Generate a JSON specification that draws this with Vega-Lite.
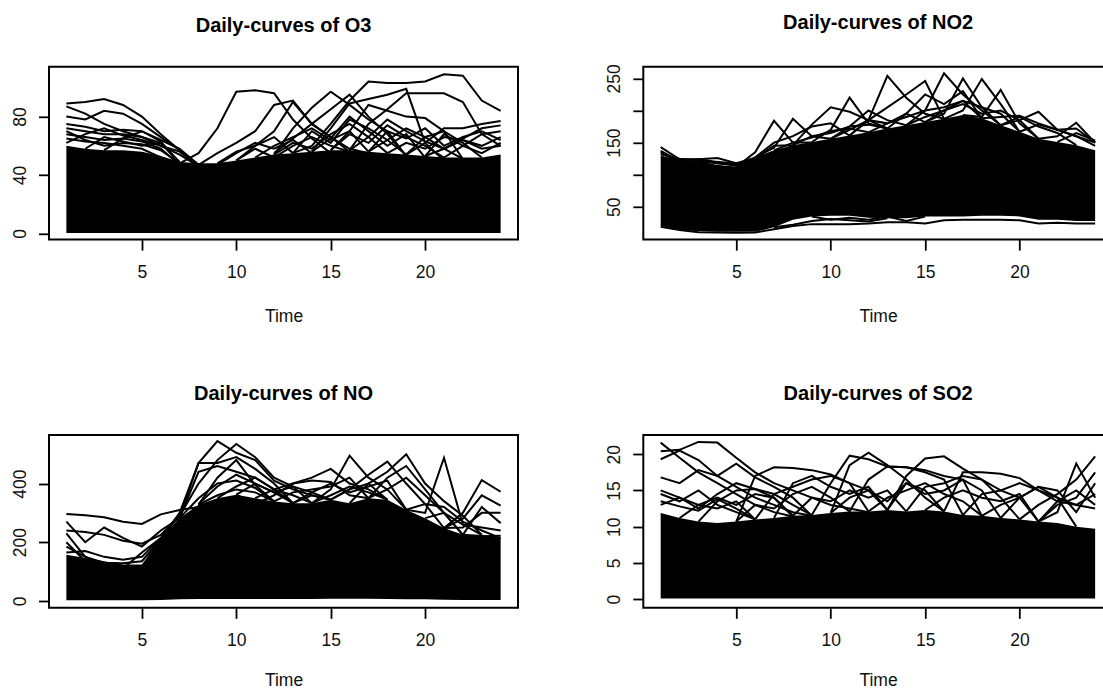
{
"$schema": "https://vega.github.io/schema/vega-lite/v6.json",
"autosize": {"type": "none"},
"padding": {"left": 49, "top": 66.8, "right": 1054, "bottom": 622.2},
"background": "white",
"config": {
  "view": {"stroke": "#000", "strokeWidth": 2},
  "axis": {"grid": false, "domain": false, "tickColor": "#000", "tickWidth": 1.8, "tickSize": 10.5, "labelFont": "Liberation Sans", "labelFontSize": 17.5, "labelColor": "#111", "labelOverlap": false, "labelFlush": false, "titleFont": "Liberation Sans", "titleFontSize": 17.5, "titleFontWeight": "normal", "titleColor": "#111"},
  "axisX": {"labelBaseline": "alphabetic", "labelPadding": 27.6, "titleBaseline": "alphabetic"},
  "axisY": {"labelAngle": 270, "labelAlign": "center", "labelBaseline": "alphabetic", "labelPadding": 13},
  "title": {"font": "Liberation Sans", "fontSize": 20, "fontWeight": "bold", "color": "#000", "offset": 30.8, "frame": "group"}
},
"datasets": {
"o3b": [{"t":1,"lo":0.3,"hi":60},{"t":2,"lo":0.3,"hi":58},{"t":3,"lo":0.3,"hi":57},{"t":4,"lo":0.3,"hi":57},{"t":5,"lo":0.3,"hi":56},{"t":6,"lo":0.3,"hi":53},{"t":7,"lo":0.3,"hi":49},{"t":8,"lo":0.3,"hi":48},{"t":9,"lo":0.3,"hi":48},{"t":10,"lo":0.3,"hi":50},{"t":11,"lo":0.3,"hi":52},{"t":12,"lo":0.3,"hi":54},{"t":13,"lo":0.3,"hi":55},{"t":14,"lo":0.3,"hi":56},{"t":15,"lo":0.3,"hi":57},{"t":16,"lo":0.3,"hi":57},{"t":17,"lo":0.3,"hi":56},{"t":18,"lo":0.3,"hi":55},{"t":19,"lo":0.3,"hi":54},{"t":20,"lo":0.3,"hi":53},{"t":21,"lo":0.3,"hi":52},{"t":22,"lo":0.3,"hi":52},{"t":23,"lo":0.3,"hi":52},{"t":24,"lo":0.3,"hi":54}],
"o3": [
{"c":"a","t":1,"v":89},{"c":"a","t":2,"v":90},{"c":"a","t":3,"v":92},{"c":"a","t":4,"v":88},{"c":"a","t":5,"v":80},{"c":"a","t":6,"v":68},{"c":"a","t":7,"v":57},{"c":"a","t":8,"v":47},
{"c":"b","t":1,"v":87},{"c":"b","t":2,"v":82},{"c":"b","t":3,"v":75},{"c":"b","t":4,"v":70},{"c":"b","t":5,"v":66},{"c":"b","t":6,"v":60},{"c":"b","t":7,"v":54},{"c":"b","t":8,"v":46},
{"c":"c","t":1,"v":80},{"c":"c","t":2,"v":78},{"c":"c","t":3,"v":84},{"c":"c","t":4,"v":82},{"c":"c","t":5,"v":75},{"c":"c","t":6,"v":66},{"c":"c","t":7,"v":57},{"c":"c","t":8,"v":46},
{"c":"d","t":1,"v":75},{"c":"d","t":2,"v":73},{"c":"d","t":3,"v":70},{"c":"d","t":4,"v":71},{"c":"d","t":5,"v":70},{"c":"d","t":6,"v":63},{"c":"d","t":7,"v":48},
{"c":"e","t":1,"v":72},{"c":"e","t":2,"v":70},{"c":"e","t":3,"v":68},{"c":"e","t":4,"v":68},{"c":"e","t":5,"v":66},{"c":"e","t":6,"v":62},{"c":"e","t":7,"v":48},
{"c":"f","t":1,"v":68},{"c":"f","t":2,"v":66},{"c":"f","t":3,"v":64},{"c":"f","t":4,"v":65},{"c":"f","t":5,"v":63},{"c":"f","t":6,"v":58},{"c":"f","t":7,"v":47},
{"c":"g","t":1,"v":65},{"c":"g","t":2,"v":63},{"c":"g","t":3,"v":62},{"c":"g","t":4,"v":60},{"c":"g","t":5,"v":58},{"c":"g","t":6,"v":52},
{"c":"h","t":1,"v":62},{"c":"h","t":2,"v":68},{"c":"h","t":3,"v":72},{"c":"h","t":4,"v":67},{"c":"h","t":5,"v":64},{"c":"h","t":6,"v":60},{"c":"h","t":7,"v":56},{"c":"h","t":8,"v":46},
{"c":"i","t":7,"v":48},{"c":"i","t":8,"v":55},{"c":"i","t":9,"v":72},{"c":"i","t":10,"v":97},{"c":"i","t":11,"v":98},{"c":"i","t":12,"v":96},{"c":"i","t":13,"v":78},{"c":"i","t":14,"v":65},{"c":"i","t":15,"v":55},
{"c":"j","t":8,"v":47},{"c":"j","t":9,"v":55},{"c":"j","t":10,"v":62},{"c":"j","t":11,"v":70},{"c":"j","t":12,"v":88},{"c":"j","t":13,"v":91},{"c":"j","t":14,"v":75},{"c":"j","t":15,"v":66},{"c":"j","t":16,"v":56},
{"c":"k","t":10,"v":50},{"c":"k","t":11,"v":60},{"c":"k","t":12,"v":70},{"c":"k","t":13,"v":90},{"c":"k","t":14,"v":75},{"c":"k","t":15,"v":66},{"c":"k","t":16,"v":58},{"c":"k","t":17,"v":55},
{"c":"l","t":12,"v":54},{"c":"l","t":13,"v":72},{"c":"l","t":14,"v":86},{"c":"l","t":15,"v":97},{"c":"l","t":16,"v":88},{"c":"l","t":17,"v":78},{"c":"l","t":18,"v":70},{"c":"l","t":19,"v":53},
{"c":"m","t":12,"v":55},{"c":"m","t":13,"v":65},{"c":"m","t":14,"v":75},{"c":"m","t":15,"v":85},{"c":"m","t":16,"v":95},{"c":"m","t":17,"v":80},{"c":"m","t":18,"v":68},{"c":"m","t":19,"v":53},
{"c":"n","t":13,"v":55},{"c":"n","t":14,"v":60},{"c":"n","t":15,"v":75},{"c":"n","t":16,"v":91},{"c":"n","t":17,"v":104},{"c":"n","t":18,"v":103},{"c":"n","t":19,"v":103},{"c":"n","t":20,"v":104},{"c":"n","t":21,"v":109},{"c":"n","t":22,"v":108},{"c":"n","t":23,"v":91},{"c":"n","t":24,"v":84},
{"c":"o","t":14,"v":56},{"c":"o","t":15,"v":72},{"c":"o","t":16,"v":89},{"c":"o","t":17,"v":92},{"c":"o","t":18,"v":95},{"c":"o","t":19,"v":99},{"c":"o","t":20,"v":62},{"c":"o","t":21,"v":50},
{"c":"p","t":16,"v":57},{"c":"p","t":17,"v":75},{"c":"p","t":18,"v":85},{"c":"p","t":19,"v":96},{"c":"p","t":20,"v":96},{"c":"p","t":21,"v":96},{"c":"p","t":22,"v":90},{"c":"p","t":23,"v":68},{"c":"p","t":24,"v":60},
{"c":"q","t":15,"v":57},{"c":"q","t":16,"v":70},{"c":"q","t":17,"v":88},{"c":"q","t":18,"v":84},{"c":"q","t":19,"v":80},{"c":"q","t":20,"v":79},{"c":"q","t":21,"v":70},{"c":"q","t":22,"v":51},
{"c":"r","t":19,"v":54},{"c":"r","t":20,"v":62},{"c":"r","t":21,"v":72},{"c":"r","t":22,"v":72},{"c":"r","t":23,"v":75},{"c":"r","t":24,"v":77},
{"c":"s","t":20,"v":53},{"c":"s","t":21,"v":58},{"c":"s","t":22,"v":65},{"c":"s","t":23,"v":72},{"c":"s","t":24,"v":74},
{"c":"t","t":17,"v":56},{"c":"t","t":18,"v":70},{"c":"t","t":19,"v":65},{"c":"t","t":20,"v":72},{"c":"t","t":21,"v":60},{"c":"t","t":22,"v":66},{"c":"t","t":23,"v":70},{"c":"t","t":24,"v":64},
{"c":"u","t":14,"v":56},{"c":"u","t":15,"v":65},{"c":"u","t":16,"v":80},{"c":"u","t":17,"v":70},{"c":"u","t":18,"v":60},{"c":"u","t":19,"v":68},{"c":"u","t":20,"v":52},
{"c":"v","t":9,"v":47},{"c":"v","t":10,"v":55},{"c":"v","t":11,"v":62},{"c":"v","t":12,"v":58},{"c":"v","t":13,"v":64},{"c":"v","t":14,"v":55},
{"c":"w","t":20,"v":53},{"c":"w","t":21,"v":68},{"c":"w","t":22,"v":60},{"c":"w","t":23,"v":55},{"c":"w","t":24,"v":62},
{"c":"x","t":16,"v":57},{"c":"x","t":17,"v":66},{"c":"x","t":18,"v":78},{"c":"x","t":19,"v":70},{"c":"x","t":20,"v":63},{"c":"x","t":21,"v":58},{"c":"x","t":22,"v":51},
{"c":"y","t":10,"v":50},{"c":"y","t":11,"v":58},{"c":"y","t":12,"v":52},{"c":"y","t":13,"v":60},{"c":"y","t":14,"v":66},{"c":"y","t":15,"v":60},{"c":"y","t":16,"v":56},
{"c":"z1","t":1,"v":70},{"c":"z1","t":2,"v":64},{"c":"z1","t":3,"v":60},{"c":"z1","t":4,"v":62},{"c":"z1","t":5,"v":61},{"c":"z1","t":6,"v":57},{"c":"z1","t":7,"v":48},
{"c":"z2","t":2,"v":58},{"c":"z2","t":3,"v":66},{"c":"z2","t":4,"v":63},{"c":"z2","t":5,"v":60},{"c":"z2","t":6,"v":62},{"c":"z2","t":7,"v":49},
{"c":"z3","t":3,"v":57},{"c":"z3","t":4,"v":65},{"c":"z3","t":5,"v":70},{"c":"z3","t":6,"v":64},{"c":"z3","t":7,"v":58},{"c":"z3","t":8,"v":47},
{"c":"z4","t":11,"v":52},{"c":"z4","t":12,"v":60},{"c":"z4","t":13,"v":66},{"c":"z4","t":14,"v":72},{"c":"z4","t":15,"v":64},{"c":"z4","t":16,"v":70},{"c":"z4","t":17,"v":56},
{"c":"z5","t":12,"v":54},{"c":"z5","t":13,"v":62},{"c":"z5","t":14,"v":58},{"c":"z5","t":15,"v":68},{"c":"z5","t":16,"v":75},{"c":"z5","t":17,"v":66},{"c":"z5","t":18,"v":55},
{"c":"z6","t":15,"v":57},{"c":"z6","t":16,"v":68},{"c":"z6","t":17,"v":62},{"c":"z6","t":18,"v":74},{"c":"z6","t":19,"v":66},{"c":"z6","t":20,"v":60},{"c":"z6","t":21,"v":52},
{"c":"z7","t":17,"v":56},{"c":"z7","t":18,"v":64},{"c":"z7","t":19,"v":72},{"c":"z7","t":20,"v":66},{"c":"z7","t":21,"v":70},{"c":"z7","t":22,"v":62},{"c":"z7","t":23,"v":52},
{"c":"z8","t":18,"v":55},{"c":"z8","t":19,"v":62},{"c":"z8","t":20,"v":58},{"c":"z8","t":21,"v":66},{"c":"z8","t":22,"v":64},{"c":"z8","t":23,"v":60},{"c":"z8","t":24,"v":66},
{"c":"z9","t":21,"v":52},{"c":"z9","t":22,"v":60},{"c":"z9","t":23,"v":68},{"c":"z9","t":24,"v":70},
{"c":"z10","t":9,"v":48},{"c":"z10","t":10,"v":56},{"c":"z10","t":11,"v":60},{"c":"z10","t":12,"v":66},{"c":"z10","t":13,"v":55},
{"c":"z11","t":13,"v":55},{"c":"z11","t":14,"v":70},{"c":"z11","t":15,"v":62},{"c":"z11","t":16,"v":78},{"c":"z11","t":17,"v":72},{"c":"z11","t":18,"v":64},{"c":"z11","t":19,"v":54},
{"c":"z12","t":19,"v":54},{"c":"z12","t":20,"v":66},{"c":"z12","t":21,"v":58},{"c":"z12","t":22,"v":64},{"c":"z12","t":23,"v":58},{"c":"z12","t":24,"v":60}
],
"no2b": [{"t":1,"lo":20,"hi":130},{"t":2,"lo":14,"hi":122},{"t":3,"lo":12,"hi":121},{"t":4,"lo":11,"hi":115},{"t":5,"lo":11,"hi":112},{"t":6,"lo":11,"hi":127},{"t":7,"lo":18,"hi":138},{"t":8,"lo":30,"hi":146},{"t":9,"lo":35,"hi":151},{"t":10,"lo":36,"hi":156},{"t":11,"lo":36,"hi":161},{"t":12,"lo":33,"hi":166},{"t":13,"lo":32,"hi":172},{"t":14,"lo":32,"hi":177},{"t":15,"lo":35,"hi":182},{"t":16,"lo":35,"hi":187},{"t":17,"lo":35,"hi":193},{"t":18,"lo":36,"hi":188},{"t":19,"lo":36,"hi":177},{"t":20,"lo":35,"hi":167},{"t":21,"lo":30,"hi":156},{"t":22,"lo":30,"hi":151},{"t":23,"lo":28,"hi":146},{"t":24,"lo":28,"hi":138}],
"no2": [
{"c":"L1","t":1,"v":19},{"c":"L1","t":2,"v":14},{"c":"L1","t":3,"v":10.5},{"c":"L1","t":4,"v":10},{"c":"L1","t":5,"v":9.5},{"c":"L1","t":6,"v":10},{"c":"L1","t":7,"v":15},{"c":"L1","t":8,"v":20},{"c":"L1","t":9,"v":23},{"c":"L1","t":10,"v":23},{"c":"L1","t":11,"v":23},{"c":"L1","t":12,"v":24},{"c":"L1","t":13,"v":26},{"c":"L1","t":14,"v":26},{"c":"L1","t":15,"v":24},{"c":"L1","t":16,"v":29},{"c":"L1","t":17,"v":30},{"c":"L1","t":18,"v":30},{"c":"L1","t":19,"v":30},{"c":"L1","t":20,"v":29},{"c":"L1","t":21,"v":24},{"c":"L1","t":22,"v":25},{"c":"L1","t":23,"v":24},{"c":"L1","t":24,"v":24},
{"c":"L2","t":7,"v":18},{"c":"L2","t":8,"v":22},{"c":"L2","t":9,"v":28},{"c":"L2","t":10,"v":31},{"c":"L2","t":11,"v":29},{"c":"L2","t":12,"v":27},{"c":"L2","t":13,"v":32},
{"c":"L3","t":9,"v":35},{"c":"L3","t":10,"v":30},{"c":"L3","t":11,"v":33},{"c":"L3","t":12,"v":30},{"c":"L3","t":13,"v":35},{"c":"L3","t":14,"v":28},{"c":"L3","t":15,"v":35},
{"c":"a","t":1,"v":143},{"c":"a","t":2,"v":124},{"c":"a","t":3,"v":124},{"c":"a","t":4,"v":120},{"c":"a","t":5,"v":117},{"c":"a","t":6,"v":118},
{"c":"b","t":1,"v":137},{"c":"b","t":2,"v":121},{"c":"b","t":3,"v":119},{"c":"b","t":4,"v":113},{"c":"b","t":5,"v":111},{"c":"b","t":6,"v":120},
{"c":"c","t":1,"v":135},{"c":"c","t":2,"v":118},{"c":"c","t":3,"v":115},{"c":"c","t":4,"v":110},{"c":"c","t":5,"v":108},{"c":"c","t":6,"v":118},
{"c":"x","t":2,"v":122},{"c":"x","t":3,"v":124},{"c":"x","t":4,"v":126},{"c":"x","t":5,"v":118},{"c":"x","t":6,"v":126},
{"c":"d","t":5,"v":112},{"c":"d","t":6,"v":135},{"c":"d","t":7,"v":184},{"c":"d","t":8,"v":150},{"c":"d","t":9,"v":150},
{"c":"e","t":6,"v":127},{"c":"e","t":7,"v":142},{"c":"e","t":8,"v":187},{"c":"e","t":9,"v":160},{"c":"e","t":10,"v":156},
{"c":"f","t":8,"v":146},{"c":"f","t":9,"v":178},{"c":"f","t":10,"v":205},{"c":"f","t":11,"v":198},{"c":"f","t":12,"v":185},{"c":"f","t":13,"v":172},
{"c":"g","t":9,"v":151},{"c":"g","t":10,"v":170},{"c":"g","t":11,"v":220},{"c":"g","t":12,"v":180},{"c":"g","t":13,"v":172},
{"c":"h","t":10,"v":156},{"c":"h","t":11,"v":175},{"c":"h","t":12,"v":200},{"c":"h","t":13,"v":185},{"c":"h","t":14,"v":177},
{"c":"i","t":11,"v":161},{"c":"i","t":12,"v":185},{"c":"i","t":13,"v":254},{"c":"i","t":14,"v":220},{"c":"i","t":15,"v":195},{"c":"i","t":16,"v":187},
{"c":"j","t":11,"v":161},{"c":"j","t":12,"v":185},{"c":"j","t":13,"v":205},{"c":"j","t":14,"v":225},{"c":"j","t":15,"v":246},{"c":"j","t":16,"v":187},
{"c":"k","t":14,"v":177},{"c":"k","t":15,"v":200},{"c":"k","t":16,"v":258},{"c":"k","t":17,"v":225},{"c":"k","t":18,"v":200},{"c":"k","t":19,"v":177},
{"c":"l","t":15,"v":182},{"c":"l","t":16,"v":195},{"c":"l","t":17,"v":250},{"c":"l","t":18,"v":205},{"c":"l","t":19,"v":177},
{"c":"m","t":16,"v":187},{"c":"m","t":17,"v":200},{"c":"m","t":18,"v":249},{"c":"m","t":19,"v":210},{"c":"m","t":20,"v":167},
{"c":"n","t":17,"v":193},{"c":"n","t":18,"v":190},{"c":"n","t":19,"v":232},{"c":"n","t":20,"v":180},{"c":"n","t":21,"v":156},
{"c":"o","t":18,"v":188},{"c":"o","t":19,"v":190},{"c":"o","t":20,"v":192},{"c":"o","t":21,"v":180},{"c":"o","t":22,"v":170},{"c":"o","t":23,"v":160},{"c":"o","t":24,"v":150},
{"c":"p","t":19,"v":177},{"c":"p","t":20,"v":185},{"c":"p","t":21,"v":198},{"c":"p","t":22,"v":170},{"c":"p","t":23,"v":172},{"c":"p","t":24,"v":150},
{"c":"q","t":21,"v":156},{"c":"q","t":22,"v":160},{"c":"q","t":23,"v":181},{"c":"q","t":24,"v":150},
{"c":"r","t":22,"v":151},{"c":"r","t":23,"v":165},{"c":"r","t":24,"v":153},
{"c":"s","t":6,"v":127},{"c":"s","t":7,"v":150},{"c":"s","t":8,"v":160},{"c":"s","t":9,"v":175},{"c":"s","t":10,"v":180},{"c":"s","t":11,"v":161},
{"c":"t","t":13,"v":172},{"c":"t","t":14,"v":195},{"c":"t","t":15,"v":225},{"c":"t","t":16,"v":210},{"c":"t","t":17,"v":230},{"c":"t","t":18,"v":188},
{"c":"u","t":14,"v":177},{"c":"u","t":15,"v":190},{"c":"u","t":16,"v":200},{"c":"u","t":17,"v":215},{"c":"u","t":18,"v":205},{"c":"u","t":19,"v":195},{"c":"u","t":20,"v":167},
{"c":"v","t":7,"v":138},{"c":"v","t":8,"v":150},{"c":"v","t":9,"v":158},{"c":"v","t":10,"v":168},{"c":"v","t":11,"v":172},{"c":"v","t":12,"v":166},
{"c":"w","t":19,"v":177},{"c":"w","t":20,"v":190},{"c":"w","t":21,"v":175},{"c":"w","t":22,"v":165},{"c":"w","t":23,"v":146},
{"c":"z1","t":1,"v":132},{"c":"z1","t":2,"v":125},{"c":"z1","t":3,"v":122},{"c":"z1","t":4,"v":118},{"c":"z1","t":5,"v":114},{"c":"z1","t":6,"v":127},
{"c":"z2","t":8,"v":146},{"c":"z2","t":9,"v":160},{"c":"z2","t":10,"v":165},{"c":"z2","t":11,"v":175},{"c":"z2","t":12,"v":178},{"c":"z2","t":13,"v":172},
{"c":"z3","t":12,"v":166},{"c":"z3","t":13,"v":180},{"c":"z3","t":14,"v":190},{"c":"z3","t":15,"v":200},{"c":"z3","t":16,"v":205},{"c":"z3","t":17,"v":215},{"c":"z3","t":18,"v":188},
{"c":"z4","t":15,"v":182},{"c":"z4","t":16,"v":200},{"c":"z4","t":17,"v":210},{"c":"z4","t":18,"v":195},{"c":"z4","t":19,"v":200},{"c":"z4","t":20,"v":185},{"c":"z4","t":21,"v":156},
{"c":"z5","t":20,"v":167},{"c":"z5","t":21,"v":178},{"c":"z5","t":22,"v":170},{"c":"z5","t":23,"v":160},{"c":"z5","t":24,"v":145},
{"c":"z6","t":3,"v":121},{"c":"z6","t":4,"v":118},{"c":"z6","t":5,"v":116},{"c":"z6","t":6,"v":125},{"c":"z6","t":7,"v":145},{"c":"z6","t":8,"v":146},
{"c":"z7","t":10,"v":156},{"c":"z7","t":11,"v":170},{"c":"z7","t":12,"v":185},{"c":"z7","t":13,"v":180},{"c":"z7","t":14,"v":195},{"c":"z7","t":15,"v":182}
],
"nob": [{"t":1,"lo":2,"hi":157},{"t":2,"lo":2,"hi":146},{"t":3,"lo":2,"hi":135},{"t":4,"lo":2,"hi":124},{"t":5,"lo":2,"hi":124},{"t":6,"lo":3,"hi":214},{"t":7,"lo":5,"hi":282},{"t":8,"lo":6,"hi":328},{"t":9,"lo":6,"hi":350},{"t":10,"lo":6,"hi":362},{"t":11,"lo":6,"hi":350},{"t":12,"lo":6,"hi":339},{"t":13,"lo":6,"hi":333},{"t":14,"lo":6,"hi":333},{"t":15,"lo":7,"hi":345},{"t":16,"lo":7,"hi":333},{"t":17,"lo":7,"hi":350},{"t":18,"lo":6,"hi":345},{"t":19,"lo":5,"hi":311},{"t":20,"lo":5,"hi":282},{"t":21,"lo":4,"hi":248},{"t":22,"lo":3,"hi":225},{"t":23,"lo":3,"hi":225},{"t":24,"lo":3,"hi":214}],
"no": [
{"c":"a","t":1,"v":296},{"c":"a","t":2,"v":292},{"c":"a","t":3,"v":285},{"c":"a","t":4,"v":270},{"c":"a","t":5,"v":262},{"c":"a","t":6,"v":295},{"c":"a","t":7,"v":310},{"c":"a","t":8,"v":320},
{"c":"b","t":1,"v":270},{"c":"b","t":2,"v":200},{"c":"b","t":3,"v":250},{"c":"b","t":4,"v":215},{"c":"b","t":5,"v":185},{"c":"b","t":6,"v":240},{"c":"b","t":7,"v":282},
{"c":"c","t":1,"v":240},{"c":"c","t":2,"v":235},{"c":"c","t":3,"v":225},{"c":"c","t":4,"v":205},{"c":"c","t":5,"v":195},{"c":"c","t":6,"v":225},{"c":"c","t":7,"v":290},
{"c":"d","t":1,"v":230},{"c":"d","t":2,"v":150},{"c":"d","t":3,"v":125},{"c":"d","t":4,"v":110},{"c":"d","t":5,"v":165},{"c":"d","t":6,"v":214},
{"c":"e","t":1,"v":200},{"c":"e","t":2,"v":135},{"c":"e","t":3,"v":120},{"c":"e","t":4,"v":105},{"c":"e","t":5,"v":110},{"c":"e","t":6,"v":200},
{"c":"f","t":1,"v":185},{"c":"f","t":2,"v":150},{"c":"f","t":3,"v":130},{"c":"f","t":4,"v":128},{"c":"f","t":5,"v":135},{"c":"f","t":6,"v":210},
{"c":"g","t":6,"v":214},{"c":"g","t":7,"v":300},{"c":"g","t":8,"v":470},{"c":"g","t":9,"v":545},{"c":"g","t":10,"v":505},{"c":"g","t":11,"v":480},{"c":"g","t":12,"v":410},{"c":"g","t":13,"v":380},{"c":"g","t":14,"v":360},{"c":"g","t":15,"v":345},
{"c":"h","t":6,"v":214},{"c":"h","t":7,"v":290},{"c":"h","t":8,"v":400},{"c":"h","t":9,"v":480},{"c":"h","t":10,"v":535},{"c":"h","t":11,"v":490},{"c":"h","t":12,"v":420},{"c":"h","t":13,"v":390},{"c":"h","t":14,"v":333},
{"c":"i","t":7,"v":285},{"c":"i","t":8,"v":470},{"c":"i","t":9,"v":470},{"c":"i","t":10,"v":490},{"c":"i","t":11,"v":450},{"c":"i","t":12,"v":400},{"c":"i","t":13,"v":333},
{"c":"j","t":7,"v":282},{"c":"j","t":8,"v":440},{"c":"j","t":9,"v":460},{"c":"j","t":10,"v":440},{"c":"j","t":11,"v":420},{"c":"j","t":12,"v":380},{"c":"j","t":13,"v":333},
{"c":"k","t":8,"v":328},{"c":"k","t":9,"v":420},{"c":"k","t":10,"v":480},{"c":"k","t":11,"v":395},{"c":"k","t":12,"v":339},
{"c":"l","t":8,"v":330},{"c":"l","t":9,"v":390},{"c":"l","t":10,"v":430},{"c":"l","t":11,"v":400},{"c":"l","t":12,"v":370},{"c":"l","t":13,"v":333},
{"c":"m","t":10,"v":362},{"c":"m","t":11,"v":330},{"c":"m","t":12,"v":360},{"c":"m","t":13,"v":400},{"c":"m","t":14,"v":410},{"c":"m","t":15,"v":405},{"c":"m","t":16,"v":360},{"c":"m","t":17,"v":350},
{"c":"n","t":11,"v":350},{"c":"n","t":12,"v":380},{"c":"n","t":13,"v":400},{"c":"n","t":14,"v":420},{"c":"n","t":15,"v":450},{"c":"n","t":16,"v":400},{"c":"n","t":17,"v":380},{"c":"n","t":18,"v":345},
{"c":"o","t":14,"v":333},{"c":"o","t":15,"v":380},{"c":"o","t":16,"v":495},{"c":"o","t":17,"v":420},{"c":"o","t":18,"v":380},{"c":"o","t":19,"v":311},
{"c":"p","t":16,"v":333},{"c":"p","t":17,"v":400},{"c":"p","t":18,"v":440},{"c":"p","t":19,"v":500},{"c":"p","t":20,"v":400},{"c":"p","t":21,"v":340},{"c":"p","t":22,"v":290},{"c":"p","t":23,"v":225},
{"c":"q","t":15,"v":345},{"c":"q","t":16,"v":380},{"c":"q","t":17,"v":430},{"c":"q","t":18,"v":475},{"c":"q","t":19,"v":400},{"c":"q","t":20,"v":330},{"c":"q","t":21,"v":248},
{"c":"r","t":19,"v":311},{"c":"r","t":20,"v":300},{"c":"r","t":21,"v":488},{"c":"r","t":22,"v":260},{"c":"r","t":23,"v":225},
{"c":"s","t":21,"v":248},{"c":"s","t":22,"v":300},{"c":"s","t":23,"v":412},{"c":"s","t":24,"v":372},
{"c":"t","t":21,"v":248},{"c":"t","t":22,"v":280},{"c":"t","t":23,"v":360},{"c":"t","t":24,"v":325},
{"c":"u","t":21,"v":248},{"c":"u","t":22,"v":250},{"c":"u","t":23,"v":300},{"c":"u","t":24,"v":300},
{"c":"v","t":22,"v":225},{"c":"v","t":23,"v":320},{"c":"v","t":24,"v":265},
{"c":"w","t":22,"v":225},{"c":"w","t":23,"v":220},{"c":"w","t":24,"v":222},
{"c":"x","t":12,"v":339},{"c":"x","t":13,"v":370},{"c":"x","t":14,"v":380},{"c":"x","t":15,"v":390},{"c":"x","t":16,"v":420},{"c":"x","t":17,"v":350},
{"c":"y","t":17,"v":350},{"c":"y","t":18,"v":420},{"c":"y","t":19,"v":460},{"c":"y","t":20,"v":380},{"c":"y","t":21,"v":300},{"c":"y","t":22,"v":225},
{"c":"z","t":8,"v":328},{"c":"z","t":9,"v":360},{"c":"z","t":10,"v":380},{"c":"z","t":11,"v":370},{"c":"z","t":12,"v":339},
{"c":"aa","t":13,"v":333},{"c":"aa","t":14,"v":360},{"c":"aa","t":15,"v":345},{"c":"aa","t":16,"v":380},{"c":"aa","t":17,"v":400},{"c":"aa","t":18,"v":345},
{"c":"ab","t":19,"v":311},{"c":"ab","t":20,"v":330},{"c":"ab","t":21,"v":320},{"c":"ab","t":22,"v":270},{"c":"ab","t":23,"v":240},{"c":"ab","t":24,"v":214},
{"c":"z1","t":1,"v":165},{"c":"z1","t":2,"v":170},{"c":"z1","t":3,"v":150},{"c":"z1","t":4,"v":140},{"c":"z1","t":5,"v":150},{"c":"z1","t":6,"v":214},
{"c":"z2","t":7,"v":282},{"c":"z2","t":8,"v":350},{"c":"z2","t":9,"v":400},{"c":"z2","t":10,"v":410},{"c":"z2","t":11,"v":385},{"c":"z2","t":12,"v":339},
{"c":"z3","t":9,"v":350},{"c":"z3","t":10,"v":390},{"c":"z3","t":11,"v":420},{"c":"z3","t":12,"v":380},{"c":"z3","t":13,"v":360},{"c":"z3","t":14,"v":333},
{"c":"z4","t":13,"v":333},{"c":"z4","t":14,"v":370},{"c":"z4","t":15,"v":400},{"c":"z4","t":16,"v":370},{"c":"z4","t":17,"v":390},{"c":"z4","t":18,"v":410},{"c":"z4","t":19,"v":311},
{"c":"z5","t":17,"v":350},{"c":"z5","t":18,"v":380},{"c":"z5","t":19,"v":420},{"c":"z5","t":20,"v":360},{"c":"z5","t":21,"v":300},{"c":"z5","t":22,"v":225},
{"c":"z6","t":20,"v":282},{"c":"z6","t":21,"v":300},{"c":"z6","t":22,"v":260},{"c":"z6","t":23,"v":250},{"c":"z6","t":24,"v":240},
{"c":"z7","t":14,"v":333},{"c":"z7","t":15,"v":360},{"c":"z7","t":16,"v":390},{"c":"z7","t":17,"v":370},{"c":"z7","t":18,"v":345},
{"c":"z8","t":10,"v":362},{"c":"z8","t":11,"v":400},{"c":"z8","t":12,"v":370},{"c":"z8","t":13,"v":390},{"c":"z8","t":14,"v":370},{"c":"z8","t":15,"v":345}
],
"so2b": [{"t":1,"lo":0.1,"hi":11.9},{"t":2,"lo":0.1,"hi":11.2},{"t":3,"lo":0.1,"hi":10.7},{"t":4,"lo":0.1,"hi":10.5},{"t":5,"lo":0.1,"hi":10.7},{"t":6,"lo":0.1,"hi":11},{"t":7,"lo":0.1,"hi":11.2},{"t":8,"lo":0.1,"hi":11.5},{"t":9,"lo":0.1,"hi":11.6},{"t":10,"lo":0.1,"hi":11.9},{"t":11,"lo":0.1,"hi":12.1},{"t":12,"lo":0.1,"hi":12.1},{"t":13,"lo":0.1,"hi":12.3},{"t":14,"lo":0.1,"hi":12.1},{"t":15,"lo":0.1,"hi":12.3},{"t":16,"lo":0.1,"hi":12.1},{"t":17,"lo":0.1,"hi":11.6},{"t":18,"lo":0.1,"hi":11.5},{"t":19,"lo":0.1,"hi":11.2},{"t":20,"lo":0.1,"hi":11},{"t":21,"lo":0.1,"hi":10.7},{"t":22,"lo":0.1,"hi":10.5},{"t":23,"lo":0.1,"hi":10},{"t":24,"lo":0.1,"hi":9.7}],
"so2": [
{"c":"a","t":1,"v":21.6},{"c":"a","t":2,"v":19.5},{"c":"a","t":3,"v":17.5},{"c":"a","t":4,"v":16},{"c":"a","t":5,"v":14.5},{"c":"a","t":6,"v":13},{"c":"a","t":7,"v":12},{"c":"a","t":8,"v":11.4},
{"c":"b","t":1,"v":20.4},{"c":"b","t":2,"v":20.6},{"c":"b","t":3,"v":21.7},{"c":"b","t":4,"v":21.6},{"c":"b","t":5,"v":19.5},{"c":"b","t":6,"v":17.5},{"c":"b","t":7,"v":16},{"c":"b","t":8,"v":15},{"c":"b","t":9,"v":14},{"c":"b","t":10,"v":13},{"c":"b","t":11,"v":12.5},{"c":"b","t":12,"v":12},
{"c":"c","t":1,"v":19.3},{"c":"c","t":2,"v":20.5},{"c":"c","t":3,"v":19.2},{"c":"c","t":4,"v":17},{"c":"c","t":5,"v":15.5},{"c":"c","t":6,"v":14},{"c":"c","t":7,"v":13},{"c":"c","t":8,"v":12},{"c":"c","t":9,"v":11.5},
{"c":"d","t":1,"v":16.8},{"c":"d","t":2,"v":16},{"c":"d","t":3,"v":17.8},{"c":"d","t":4,"v":17},{"c":"d","t":5,"v":18.7},{"c":"d","t":6,"v":16.8},{"c":"d","t":7,"v":15.5},{"c":"d","t":8,"v":14},{"c":"d","t":9,"v":11.5},
{"c":"e","t":1,"v":15},{"c":"e","t":2,"v":14},{"c":"e","t":3,"v":12.5},{"c":"e","t":4,"v":14.5},{"c":"e","t":5,"v":16},{"c":"e","t":6,"v":15.2},{"c":"e","t":7,"v":14},{"c":"e","t":8,"v":11.4},
{"c":"f","t":1,"v":14.5},{"c":"f","t":2,"v":13.5},{"c":"f","t":3,"v":15},{"c":"f","t":4,"v":13},{"c":"f","t":5,"v":12},{"c":"f","t":6,"v":11},
{"c":"g","t":1,"v":13.5},{"c":"g","t":2,"v":12.8},{"c":"g","t":3,"v":12.2},{"c":"g","t":4,"v":13.8},{"c":"g","t":5,"v":12.5},{"c":"g","t":6,"v":11},
{"c":"h","t":5,"v":10.7},{"c":"h","t":6,"v":17},{"c":"h","t":7,"v":18.2},{"c":"h","t":8,"v":18.1},{"c":"h","t":9,"v":17.8},{"c":"h","t":10,"v":17.2},{"c":"h","t":11,"v":16},{"c":"h","t":12,"v":15},{"c":"h","t":13,"v":12.3},
{"c":"i","t":9,"v":11.6},{"c":"i","t":10,"v":16},{"c":"i","t":11,"v":19.8},{"c":"i","t":12,"v":19.3},{"c":"i","t":13,"v":18.3},{"c":"i","t":14,"v":18.2},{"c":"i","t":15,"v":17.5},{"c":"i","t":16,"v":16.5},{"c":"i","t":17,"v":11.6},
{"c":"j","t":10,"v":11.9},{"c":"j","t":11,"v":18.5},{"c":"j","t":12,"v":20.2},{"c":"j","t":13,"v":18.5},{"c":"j","t":14,"v":16.5},{"c":"j","t":15,"v":14},{"c":"j","t":16,"v":12.1},
{"c":"k","t":13,"v":12.3},{"c":"k","t":14,"v":17},{"c":"k","t":15,"v":19.4},{"c":"k","t":16,"v":19.7},{"c":"k","t":17,"v":18},{"c":"k","t":18,"v":16.5},{"c":"k","t":19,"v":15},{"c":"k","t":20,"v":14},{"c":"k","t":21,"v":10.7},
{"c":"l","t":16,"v":12.1},{"c":"l","t":17,"v":17.5},{"c":"l","t":18,"v":17.5},{"c":"l","t":19,"v":17.3},{"c":"l","t":20,"v":16.7},{"c":"l","t":21,"v":15},{"c":"l","t":22,"v":14},{"c":"l","t":23,"v":10},
{"c":"m","t":20,"v":11},{"c":"m","t":21,"v":13},{"c":"m","t":22,"v":14.5},{"c":"m","t":23,"v":16.5},{"c":"m","t":24,"v":19.7},
{"c":"n","t":21,"v":10.7},{"c":"n","t":22,"v":12},{"c":"n","t":23,"v":18.7},{"c":"n","t":24,"v":14},
{"c":"o","t":21,"v":10.7},{"c":"o","t":22,"v":13},{"c":"o","t":23,"v":14},{"c":"o","t":24,"v":17.5},
{"c":"p","t":11,"v":12.1},{"c":"p","t":12,"v":16.5},{"c":"p","t":13,"v":18.3},{"c":"p","t":14,"v":18.2},{"c":"p","t":15,"v":17.8},{"c":"p","t":16,"v":17},{"c":"p","t":17,"v":16.5},{"c":"p","t":18,"v":11.5},
{"c":"q","t":6,"v":11},{"c":"q","t":7,"v":14.5},{"c":"q","t":8,"v":15.5},{"c":"q","t":9,"v":16.5},{"c":"q","t":10,"v":17},{"c":"q","t":11,"v":16},{"c":"q","t":12,"v":12.1},
{"c":"r","t":7,"v":11.2},{"c":"r","t":8,"v":16},{"c":"r","t":9,"v":17},{"c":"r","t":10,"v":15.5},{"c":"r","t":11,"v":14.5},{"c":"r","t":12,"v":15.5},{"c":"r","t":13,"v":12.3},
{"c":"s","t":3,"v":10.7},{"c":"s","t":4,"v":13.5},{"c":"s","t":5,"v":15},{"c":"s","t":6,"v":15.2},{"c":"s","t":7,"v":14.5},{"c":"s","t":8,"v":13},{"c":"s","t":9,"v":11.6},
{"c":"t","t":14,"v":12.1},{"c":"t","t":15,"v":15.5},{"c":"t","t":16,"v":16},{"c":"t","t":17,"v":17},{"c":"t","t":18,"v":16.5},{"c":"t","t":19,"v":14},{"c":"t","t":20,"v":11},
{"c":"u","t":17,"v":11.6},{"c":"u","t":18,"v":14.5},{"c":"u","t":19,"v":15},{"c":"u","t":20,"v":16},{"c":"u","t":21,"v":15},{"c":"u","t":22,"v":13.5},{"c":"u","t":23,"v":13},{"c":"u","t":24,"v":14.5},
{"c":"v","t":19,"v":11.2},{"c":"v","t":20,"v":14},{"c":"v","t":21,"v":15.5},{"c":"v","t":22,"v":15},{"c":"v","t":23,"v":12},{"c":"v","t":24,"v":16},
{"c":"w","t":12,"v":12.1},{"c":"w","t":13,"v":14},{"c":"w","t":14,"v":15},{"c":"w","t":15,"v":16},{"c":"w","t":16,"v":14.5},{"c":"w","t":17,"v":13.5},{"c":"w","t":18,"v":11.5},
{"c":"z1","t":1,"v":13},{"c":"z1","t":2,"v":14},{"c":"z1","t":3,"v":13},{"c":"z1","t":4,"v":12.5},{"c":"z1","t":5,"v":13.5},{"c":"z1","t":6,"v":11},
{"c":"z2","t":2,"v":11.2},{"c":"z2","t":3,"v":13},{"c":"z2","t":4,"v":14},{"c":"z2","t":5,"v":13},{"c":"z2","t":6,"v":14.5},{"c":"z2","t":7,"v":14},{"c":"z2","t":8,"v":11.5},
{"c":"z3","t":8,"v":11.5},{"c":"z3","t":9,"v":14},{"c":"z3","t":10,"v":13.5},{"c":"z3","t":11,"v":15},{"c":"z3","t":12,"v":14},{"c":"z3","t":13,"v":15},{"c":"z3","t":14,"v":12.1},
{"c":"z4","t":10,"v":11.9},{"c":"z4","t":11,"v":14},{"c":"z4","t":12,"v":15},{"c":"z4","t":13,"v":13.5},{"c":"z4","t":14,"v":16},{"c":"z4","t":15,"v":15},{"c":"z4","t":16,"v":12.1},
{"c":"z5","t":15,"v":12.3},{"c":"z5","t":16,"v":14},{"c":"z5","t":17,"v":15},{"c":"z5","t":18,"v":14},{"c":"z5","t":19,"v":13.5},{"c":"z5","t":20,"v":14.5},{"c":"z5","t":21,"v":10.7},
{"c":"z6","t":18,"v":11.5},{"c":"z6","t":19,"v":13},{"c":"z6","t":20,"v":14},{"c":"z6","t":21,"v":15.5},{"c":"z6","t":22,"v":14},{"c":"z6","t":23,"v":13},{"c":"z6","t":24,"v":12.5},
{"c":"z7","t":21,"v":10.7},{"c":"z7","t":22,"v":13.5},{"c":"z7","t":23,"v":15},{"c":"z7","t":24,"v":13},
{"c":"z8","t":5,"v":10.7},{"c":"z8","t":6,"v":13},{"c":"z8","t":7,"v":12.5},{"c":"z8","t":8,"v":14.5},{"c":"z8","t":9,"v":15.5},{"c":"z8","t":10,"v":14},{"c":"z8","t":11,"v":12.1},
{"c":"z9","t":13,"v":12.3},{"c":"z9","t":14,"v":16},{"c":"z9","t":15,"v":14.5},{"c":"z9","t":16,"v":15},{"c":"z9","t":17,"v":16.5},{"c":"z9","t":18,"v":15},{"c":"z9","t":19,"v":11.2}
]
},
"columns": 2,
"spacing": {"row": 195.2, "column": 125.3},
"bounds": "flush",
"concat": [
{
 "width": 469, "height": 172.8,
 "title": {"text": "Daily-curves of O3"},
 "layer": [
  {"data": {"name": "o3b"}, "mark": {"type": "area", "color": "#000", "clip": true},
   "encoding": {
    "x": {"field": "t", "type": "quantitative", "title": "Time", "scale": {"domain": [0.08, 24.92], "nice": false, "zero": false}, "axis": {"values": [5, 10, 15, 20], "titleY": 82.1}},
    "y": {"field": "hi", "type": "quantitative", "title": null, "scale": {"domain": [-4.2, 114.1], "nice": false, "zero": false}, "axis": {"values": [0, 20, 40, 60, 80, 100], "labelExpr": "datum.value % 40 === 0 ? datum.label : ''"}},
    "y2": {"field": "lo"}}},
  {"data": {"name": "o3"}, "mark": {"type": "line", "color": "#000", "strokeWidth": 2, "clip": true},
   "encoding": {"x": {"field": "t", "type": "quantitative", "title": "Time"}, "y": {"field": "v", "type": "quantitative", "title": null}, "detail": {"field": "c", "type": "nominal"}}}
 ]
},
{
 "width": 461, "height": 172.8,
 "title": {"text": "Daily-curves of NO2", "dx": 4.3},
 "layer": [
  {"data": {"name": "no2b"}, "mark": {"type": "area", "color": "#000", "clip": true},
   "encoding": {
    "x": {"field": "t", "type": "quantitative", "title": "Time", "scale": {"domain": [0.08, 24.485], "nice": false, "zero": false}, "axis": {"values": [5, 10, 15, 20], "titleY": 82.1, "titleX": 234.7}},
    "y": {"field": "hi", "type": "quantitative", "title": null, "scale": {"domain": [-1.1, 268.1], "nice": false, "zero": false}, "axis": {"values": [50, 100, 150, 200, 250], "labelExpr": "datum.value % 100 === 50 ? datum.label : ''"}},
    "y2": {"field": "lo"}}},
  {"data": {"name": "no2"}, "mark": {"type": "line", "color": "#000", "strokeWidth": 2, "clip": true},
   "encoding": {"x": {"field": "t", "type": "quantitative", "title": "Time"}, "y": {"field": "v", "type": "quantitative", "title": null}, "detail": {"field": "c", "type": "nominal"}}}
 ]
},
{
 "width": 469, "height": 172.8,
 "title": {"text": "Daily-curves of NO"},
 "layer": [
  {"data": {"name": "nob"}, "mark": {"type": "area", "color": "#000", "clip": true},
   "encoding": {
    "x": {"field": "t", "type": "quantitative", "title": "Time", "scale": {"domain": [0.08, 24.92], "nice": false, "zero": false}, "axis": {"values": [5, 10, 15, 20], "titleY": 77.4}},
    "y": {"field": "hi", "type": "quantitative", "title": null, "scale": {"domain": [-23.8, 565.6], "nice": false, "zero": false}, "axis": {"values": [0, 100, 200, 300, 400, 500], "labelExpr": "datum.value % 200 === 0 ? datum.label : ''"}},
    "y2": {"field": "lo"}}},
  {"data": {"name": "no"}, "mark": {"type": "line", "color": "#000", "strokeWidth": 2, "clip": true},
   "encoding": {"x": {"field": "t", "type": "quantitative", "title": "Time"}, "y": {"field": "v", "type": "quantitative", "title": null}, "detail": {"field": "c", "type": "nominal"}}}
 ]
},
{
 "width": 461, "height": 172.8,
 "title": {"text": "Daily-curves of SO2", "dx": 4.3},
 "layer": [
  {"data": {"name": "so2b"}, "mark": {"type": "area", "color": "#000", "clip": true},
   "encoding": {
    "x": {"field": "t", "type": "quantitative", "title": "Time", "scale": {"domain": [0.08, 24.485], "nice": false, "zero": false}, "axis": {"values": [5, 10, 15, 20], "titleY": 77.4, "titleX": 234.7}},
    "y": {"field": "hi", "type": "quantitative", "title": null, "scale": {"domain": [-1.2, 22.65], "nice": false, "zero": false}, "axis": {"values": [0, 5, 10, 15, 20]}},
    "y2": {"field": "lo"}}},
  {"data": {"name": "so2"}, "mark": {"type": "line", "color": "#000", "strokeWidth": 2, "clip": true},
   "encoding": {"x": {"field": "t", "type": "quantitative", "title": "Time"}, "y": {"field": "v", "type": "quantitative", "title": null}, "detail": {"field": "c", "type": "nominal"}}}
 ]
}
]
}
